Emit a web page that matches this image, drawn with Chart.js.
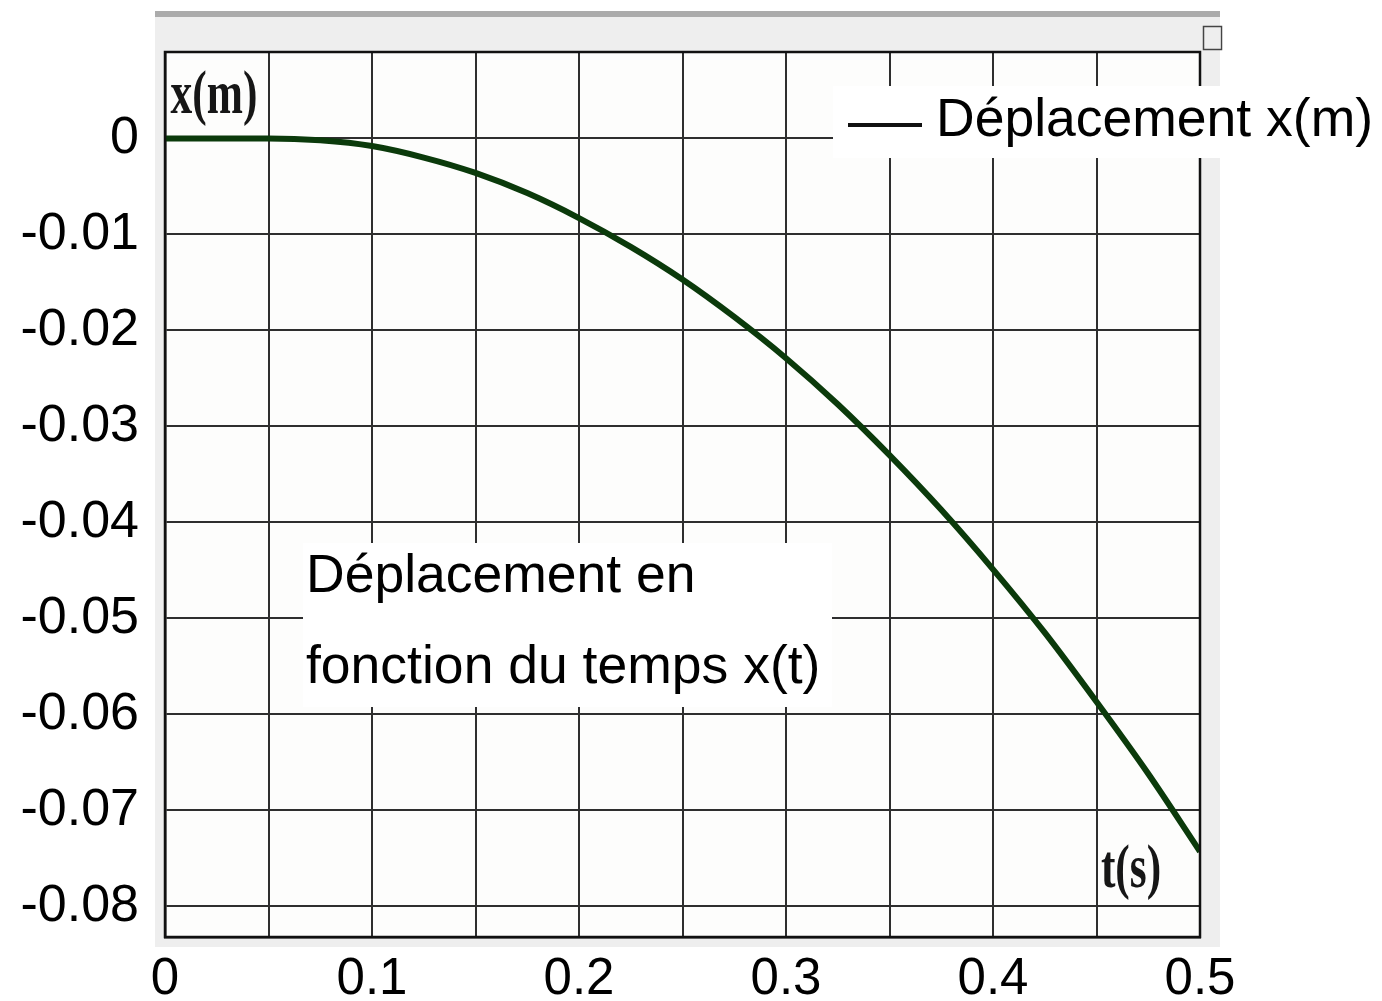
<!DOCTYPE html>
<html>
<head>
<meta charset="utf-8">
<title>Déplacement x(t)</title>
<script src="https://cdn.jsdelivr.net/npm/chart.js@4/dist/chart.umd.min.js"></script>
<style>
  html, body { margin: 0; padding: 0; background: #fff; }
  #wrap { width: 1382px; height: 1001px; }
</style>
</head>
<body>
<div id="wrap"><canvas id="chart" width="1382" height="1001"></canvas></div>
<script>
// ── Data ──
const times        = [0, 0.025, 0.05, 0.075, 0.1, 0.125, 0.15, 0.175, 0.2, 0.225, 0.25,
                      0.275, 0.3, 0.325, 0.35, 0.375, 0.4, 0.425, 0.45, 0.475, 0.5];
const displacement = [0, 0, 0, -0.0002, -0.0008, -0.0020, -0.0036, -0.0057, -0.0083, -0.0113, -0.0147,
                      -0.0186, -0.0229, -0.0277, -0.0330, -0.0387, -0.0449, -0.0515, -0.0587, -0.0662, -0.0743];

const xGridTicks  = [0, 0.05, 0.1, 0.15, 0.2, 0.25, 0.3, 0.35, 0.4, 0.45, 0.5];
const xTickLabels = ['0', '', '0.1', '', '0.2', '', '0.3', '', '0.4', '', '0.5'];
const yGridTicks  = [0, -0.01, -0.02, -0.03, -0.04, -0.05, -0.06, -0.07, -0.08];
const yTickLabels = ['0', '-0.01', '-0.02', '-0.03', '-0.04', '-0.05', '-0.06', '-0.07', '-0.08'];

const seriesLabel = 'Déplacement x(m)';
const noteLines   = ['Déplacement en', 'fonction du temps x(t)'];
const yAxisName   = 'x(m)';
const xAxisName   = 't(s)';

const SANS  = '"Liberation Sans", Arial, sans-serif';
const SERIF = '"Liberation Serif", "Times New Roman", serif';

// ── Background: grey window + white plot area ──
const backdrop = {
  id: 'backdrop',
  beforeDraw(chart) {
    const { ctx, chartArea: a } = chart;
    ctx.save();
    ctx.fillStyle = '#eeeeee';
    ctx.fillRect(155, 17, 1065, 930);
    ctx.fillStyle = '#ababab';
    ctx.fillRect(155, 11, 1065, 6);
    ctx.fillStyle = '#fdfdfc';
    ctx.fillRect(a.left, a.top, a.right - a.left, a.bottom - a.top);
    ctx.restore();
  }
};

// ── Frame, legend, notes ──
const overlay = {
  id: 'overlay',
  afterDraw(chart) {
    const { ctx, chartArea: a } = chart;
    ctx.save();

    // frame
    ctx.strokeStyle = '#111';
    ctx.lineWidth = 2.5;
    ctx.strokeRect(a.left, a.top, a.right - a.left, a.bottom - a.top);

    // little window icon top right
    ctx.lineWidth = 1.5;
    ctx.strokeStyle = '#444';
    ctx.strokeRect(1203.5, 26.5, 18, 23);

    // axis names (serif, condensed)
    ctx.fillStyle = '#161616';
    ctx.textAlign = 'center';
    ctx.textBaseline = 'middle';
    ctx.font = 'bold 62px ' + SERIF;
    [[yAxisName, 214, 97], [xAxisName, 1131, 871]].forEach(([txt, cx, cy]) => {
      ctx.save();
      ctx.translate(cx, cy);
      ctx.scale(0.7, 1);
      ctx.fillText(txt, 0, 0);
      ctx.restore();
    });

    // legend
    ctx.fillStyle = '#fff';
    ctx.fillRect(833, 86, 549, 72);
    ctx.strokeStyle = '#111';
    ctx.lineWidth = 4;
    ctx.beginPath();
    ctx.moveTo(848, 125);
    ctx.lineTo(922, 125);
    ctx.stroke();
    ctx.fillStyle = '#000';
    ctx.font = '53.5px ' + SANS;
    ctx.textAlign = 'left';
    ctx.fillText(chart.data.datasets[0].label, 936, 121);

    // note box
    ctx.fillStyle = '#fff';
    ctx.fillRect(303, 543, 529, 164);
    ctx.fillStyle = '#000';
    ctx.font = '53.5px ' + SANS;
    ctx.fillText(noteLines[0], 306, 577);
    ctx.fillText(noteLines[1], 306, 668);

    ctx.restore();
  }
};

new Chart(document.getElementById('chart'), {
  type: 'line',
  data: {
    labels: times,
    datasets: [{
      label: seriesLabel,
      data: times.map((t, i) => ({ x: t, y: displacement[i] })),
      borderColor: '#0b3a0b',
      borderWidth: 6,
      pointRadius: 0,
      fill: false,
      tension: 0.4,
      cubicInterpolationMode: 'monotone',
    }]
  },
  options: {
    responsive: false,
    animation: false,
    layout: { padding: { top: 50, right: 182, left: 0, bottom: 0 } },
    plugins: {
      legend: { display: false },
      tooltip: { enabled: false }
    },
    scales: {
      x: {
        type: 'linear',
        min: 0, max: 0.5,
        afterBuildTicks: s => { s.ticks = xGridTicks.map(v => ({ value: v })); },
        afterFit: s => { s.height = 64; },
        grid: { color: '#2e2e2e', lineWidth: 2, drawTicks: false },
        border: { display: true, color: '#111', width: 2.5 },
        ticks: {
          autoSkip: false, maxRotation: 0, padding: 17,
          color: '#000',
          font: { family: SANS, size: 51, lineHeight: 1 },
          callback: (v, i) => xTickLabels[i]
        }
      },
      y: {
        type: 'linear',
        min: -0.0832, max: 0.0090,
        afterBuildTicks: s => { s.ticks = yGridTicks.map(v => ({ value: v })); },
        afterFit: s => { s.width = 165; },
        grid: { color: '#2e2e2e', lineWidth: 2, drawTicks: false },
        border: { display: true, color: '#111', width: 2.5 },
        ticks: {
          padding: 26,
          color: '#000',
          font: { family: SANS, size: 52, lineHeight: 1 },
          callback: (v, i) => yTickLabels[i]
        }
      }
    }
  },
  plugins: [backdrop, overlay]
});
</script>
</body>
</html>
